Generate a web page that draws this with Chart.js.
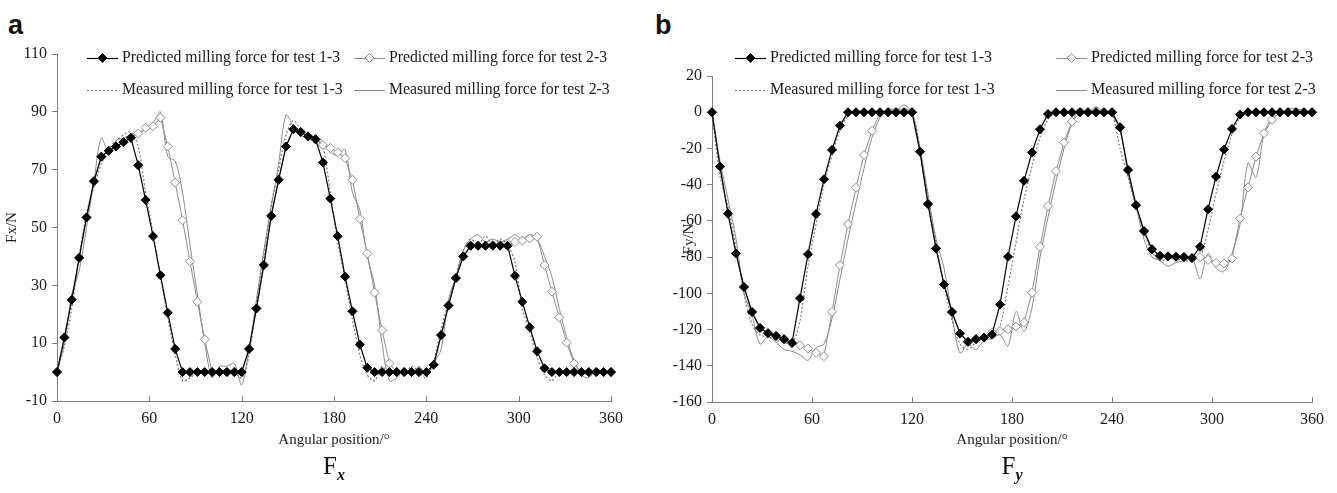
<!DOCTYPE html>
<html lang="en">
<head>
<meta charset="UTF-8">
<title>Milling force Fx / Fy</title>
<script src="https://cdn.jsdelivr.net/npm/chart.js"></script>
<style>
body {
    margin: 0;
    background: #fff;
    width: 1337px;
    height: 493px;
    position: relative;
    overflow: hidden;
    font-family: "Liberation Serif", "Times New Roman", serif;
}
canvas { position: absolute; top: 0; }
#fxChart { left: 0; }
#fyChart { left: 660px; }
.tag {
    position: absolute;
    top: 10px;
    font: bold 27px "Liberation Sans", Arial, sans-serif;
    color: #111;
}
.caption {
    position: absolute;
    top: 452px;
    font-size: 25px;
    color: #111;
    transform: translateX(-50%);
}
.caption i { font-size: 16px; font-weight: bold; }
</style>
</head>
<body>

<div class="tag" style="left:8px">a</div>
<div class="tag" style="left:655px">b</div>

<canvas id="fxChart" width="660" height="493"></canvas>
<canvas id="fyChart" width="677" height="493"></canvas>

<div class="caption" style="left:334px">F<sub><i>x</i></sub></div>
<div class="caption" style="left:1012px">F<sub><i>y</i></sub></div>

<script>
// angular position of every sample (deg)
const angleDeg = [0, 4.8, 9.6, 14.4, 19.2, 24, 28.8, 33.6, 38.4, 43.2,
    48, 52.8, 57.6, 62.4, 67.2, 72, 76.8, 81.6, 86.4, 91.2,
    96, 100.8, 105.6, 110.4, 115.2, 120, 124.8, 129.6, 134.4, 139.2,
    144, 148.8, 153.6, 158.4, 163.2, 168, 172.8, 177.6, 182.4, 187.2,
    192, 196.8, 201.6, 206.4, 211.2, 216, 220.8, 225.6, 230.4, 235.2,
    240, 244.8, 249.6, 254.4, 259.2, 264, 268.8, 273.6, 278.4, 283.2,
    288, 292.8, 297.6, 302.4, 307.2, 312, 316.8, 321.6, 326.4, 331.2,
    336, 340.8, 345.6, 350.4, 355.2, 360];

const xTicks = [0, 60, 120, 180, 240, 300, 360];
const fxTicks = [-10, 10, 30, 50, 70, 90, 110];
const fyTicks = [-160, -140, -120, -100, -80, -60, -40, -20, 0, 20];

// Fx (N)
const fxPred13 = [0, 12, 25, 39.5, 53.5, 66, 74.5, 76.5, 78, 79.5,
    81, 71.5, 59.5, 47, 33.5, 20.5, 8, 0, 0, 0,
    0, 0, 0, 0, 0, 0, 8, 22, 37, 54,
    66.5, 78, 84, 83, 81.5, 80.5, 72.5, 60, 47, 33,
    21, 9.5, 1.5, 0, 0, 0, 0, 0, 0, 0,
    0, 2.5, 12.8, 23, 32.5, 40, 43.7, 43.7, 43.7, 43.7,
    43.7, 43.7, 33.3, 24.3, 15.5, 7.2, 1.3, 0, 0, 0,
    0, 0, 0, 0, 0, 0];
const fxPred23 = [0, 12, 25, 39.5, 53.5, 66, 74.5, 76.5, 78, 79.5,
    81, 82.5, 84.5, 85, 88, 78, 65.5, 52.5, 38.3, 24.3,
    11.3, 0, 0, 0, 0, 0, 8, 22, 37, 54,
    66.5, 78, 84, 83, 81.5, 80.5, 78.5, 77.5, 76, 74,
    66.5, 53, 41, 27.5, 14.5, 3, 0, 0, 0, 0,
    0, 2.5, 12.8, 23, 32.5, 40, 43.7, 43.7, 43.7, 44,
    44, 44.5, 45, 45.5, 46.2, 46.8, 37, 27.8, 18.9, 10.2,
    3, 0, 0, 0, 0, 0];
const fxMeas13 = [0, 9, 22, 40, 55, 64, 72, 77, 80, 82,
    83, 78, 62, 48, 33, 19, 6, -3, -2, 0,
    1, -1, 0, 1, 0, -2, 6, 24, 40, 58,
    70, 82, 87, 84, 82, 81, 78, 62, 45, 32,
    18, 6, -1, -3, 2, -1, 1, -1, 2, 0,
    -2, 4, 15, 24, 33, 42, 46, 44, 47, 44,
    46, 44, 38, 22, 14, 5, -1, -3, 0, -1,
    1, 0, -1, 1, 0, 0];
const fxMeas23 = [0, 10, 27, 35, 50, 66, 81, 76, 80, 81,
    82, 82, 84, 86, 90, 74.5, 73, 62, 44, 27,
    10, -2, 2, 2, 3, -4.5, 8, 25, 42, 57,
    72, 89, 85, 82, 81, 81, 80, 76, 75, 77,
    62, 56, 40, 30, 10, -3, -2, 1, -1, 2,
    -1, 3, 8, 25, 33, 42, 46, 47.5, 45, 46,
    45, 46, 47.5, 46, 47.5, 46, 40, 33, 22, 12,
    4, -1, -2, 1, 0, 0];

// Fy (N)
const fyPred13 = [0, -30, -56, -78, -96.5, -110.3, -119.1, -122, -123.5, -125.3,
    -127.4, -102.7, -78.4, -56.2, -37, -20.8, -7.4, 0, 0, 0,
    0, 0, 0, 0, 0, 0, -21.8, -50.7, -75.2, -95.1,
    -110.3, -122.2, -126.8, -125.3, -124.4, -122.8, -106.2, -79.8, -57.5, -37.9,
    -22.2, -9.4, -1, 0, 0, 0, 0, 0, 0, 0,
    0, -8.3, -31.9, -51.3, -65.6, -75.7, -79.3, -79.6, -79.8, -80,
    -80.5, -74.3, -53.6, -35.6, -20.6, -9.2, -1.3, 0, 0, 0,
    0, 0, 0, 0, 0, 0];
const fyPred23 = [0, -30, -56, -78, -96.5, -110.3, -119.1, -122, -123.5, -125.3,
    -127.4, -128.7, -130.5, -132.9, -134.7, -110.2, -84.4, -61.8, -41.7, -23.6,
    -10.2, -0.5, 0, 0, 0, 0, -21.8, -50.7, -75.2, -95.1,
    -110.3, -122.2, -126.8, -125.3, -124.4, -121.5, -120.8, -119.8, -118.3, -116,
    -99.7, -74.3, -51.8, -32.5, -16.8, -5.2, 0, 0, 0, 0,
    0, -8.3, -31.9, -51.3, -65.6, -75.7, -79.3, -79.6, -79.8, -80,
    -80.5, -80, -81.5, -83.2, -83.5, -80.8, -58.6, -41.5, -24.5, -11.6,
    -4.2, 0, 0, 0, 0, 0];
const fyMeas13 = [0, -35, -52, -75, -100, -117, -123, -124, -126, -127,
    -128, -115, -85, -62, -40, -24, -10, -2, 0, 1,
    0, 1, 0, 1, 2, 0, -20, -48, -72, -95,
    -115, -128, -131, -127, -125, -124, -118, -96, -72, -48,
    -30, -14, -4, 0, 1, 0, 2, 0, 1, 0,
    -1, -20, -36, -52, -66, -77, -82, -81, -81, -82,
    -82, -80, -65, -45, -27, -12, -3, 0, 1, 0,
    1, 0, 1, 0, 0, 0];
const fyMeas23 = [0, -27, -48, -70, -100, -112, -128, -124, -127, -131,
    -132, -134, -137, -130, -128, -114, -92, -70, -50, -31,
    -14, -3, 2, 1, 4, 0, -20, -45, -70, -86,
    -112, -133, -128, -131, -126, -125, -123, -129, -110, -121,
    -108, -80, -58, -38, -20, -6, 2, 0, 3, 0,
    -2, -10, -34, -52, -70, -80, -82, -85, -83, -82,
    -80, -92, -78, -86, -88, -78, -62, -28, -36, -12,
    -3, -1, 2, 2, 1, 0];

Chart.defaults.font.family = '"Liberation Serif", "Times New Roman", serif';
Chart.defaults.color = '#1a1a1a';

function pts(values) {
    return angleDeg.map((a, i) => ({ x: a, y: values[i] }));
}

// two-row legend drawn above the curves
const rowLegend = {
    id: 'rowLegend',
    afterDraw(chart, args, opts) {
        const ctx = chart.ctx;
        ctx.save();
        ctx.font = '17px "Liberation Serif", serif';
        const k = opts.textWidth / ctx.measureText(chart.data.datasets[0].label).width;
        opts.items.forEach(it => {
            const ds = chart.data.datasets[it.index];
            ctx.strokeStyle = ds.borderColor;
            ctx.lineWidth = ds.borderWidth;
            ctx.setLineDash(ds.borderDash || []);
            ctx.beginPath();
            ctx.moveTo(it.x, it.y + 0.5);
            ctx.lineTo(it.x + 31, it.y + 0.5);
            ctx.stroke();
            ctx.setLineDash([]);
            if (ds.pointRadius > 0) {
                const r = ds.pointRadius, cx = it.x + 15.5;
                ctx.beginPath();
                ctx.moveTo(cx - r, it.y);
                ctx.lineTo(cx, it.y - r);
                ctx.lineTo(cx + r, it.y);
                ctx.lineTo(cx, it.y + r);
                ctx.closePath();
                ctx.fillStyle = ds.pointBackgroundColor;
                ctx.fill();
                ctx.strokeStyle = ds.pointBorderColor;
                ctx.lineWidth = 1;
                ctx.stroke();
            }
            ctx.save();
            ctx.translate(it.x + 35, it.y);
            ctx.scale(k, 1);
            ctx.fillStyle = '#1a1a1a';
            ctx.textBaseline = 'middle';
            ctx.fillText(ds.label, 0, 0);
            ctx.restore();
        });
        ctx.restore();
    }
};

// x-axis tick marks point into the plot
const innerTicks = {
    id: 'innerTicks',
    afterDraw(chart) {
        const { ctx, chartArea } = chart;
        const x = chart.scales.x;
        ctx.save();
        ctx.strokeStyle = '#808080';
        ctx.lineWidth = 1;
        x.ticks.forEach(t => {
            const px = Math.round(x.getPixelForValue(t.value)) + 0.5;
            ctx.beginPath();
            ctx.moveTo(px, chartArea.bottom);
            ctx.lineTo(px, chartArea.bottom - 5);
            ctx.stroke();
        });
        ctx.restore();
    }
};

function makeChart(id, cfg) {
    const datasets = [
        { label: 'Predicted milling force for test 1-3', data: pts(cfg.pred13), showLine: true,
          borderColor: '#000', borderWidth: 1.2, pointStyle: 'rectRot', pointRadius: 4.5,
          pointBackgroundColor: '#000', pointBorderColor: '#000', pointBorderWidth: 1, order: 0, clip: false },
        { label: 'Predicted milling force for test 2-3', data: pts(cfg.pred23), showLine: true,
          borderColor: '#8c8c8c', borderWidth: 1, pointStyle: 'rectRot', pointRadius: 4.5,
          pointBackgroundColor: '#fff', pointBorderColor: '#8c8c8c', pointBorderWidth: 1, order: 1, clip: false },
        { label: 'Measured milling force for test 1-3', data: pts(cfg.meas13), showLine: true,
          borderColor: '#7a7a7a', borderWidth: 1.2, borderDash: [2, 2], pointRadius: 0,
          tension: 0.3, order: 2, clip: false },
        { label: 'Measured milling force for test 2-3', data: pts(cfg.meas23), showLine: true,
          borderColor: '#8a8a8a', borderWidth: 1, pointRadius: 0,
          tension: 0.3, order: 3, clip: false }
    ];

    return new Chart(document.getElementById(id), {
        type: 'scatter',
        data: { datasets },
        options: {
            responsive: false,
            animation: false,
            events: [],
            layout: { padding: { top: cfg.top, right: cfg.right, left: 0, bottom: 0 } },
            plugins: {
                legend: { display: false },
                tooltip: { enabled: false },
                rowLegend: { items: cfg.legend, textWidth: cfg.textWidth }
            },
            scales: {
                x: {
                    type: 'linear',
                    min: xTicks[0],
                    max: xTicks[xTicks.length - 1],
                    afterBuildTicks: s => { s.ticks = xTicks.map(v => ({ value: v })); },
                    ticks: { font: { size: 16 }, padding: 8, maxRotation: 0 },
                    grid: { display: false, drawTicks: false },
                    border: { display: true, color: '#808080', width: 1 },
                    title: { display: true, text: 'Angular position/°', font: { size: 15 },
                             padding: { top: 0, bottom: 44 } },
                    afterFit: s => { s.height = cfg.bottom; }
                },
                y: {
                    min: cfg.yTicks[0],
                    max: cfg.yTicks[cfg.yTicks.length - 1],
                    afterBuildTicks: s => { s.ticks = cfg.yTicks.map(v => ({ value: v })); },
                    ticks: { font: { size: 16 }, padding: 5 },
                    grid: { display: true, drawOnChartArea: false, drawTicks: true, tickLength: 5, color: '#808080' },
                    border: { display: true, color: '#808080', width: 1 },
                    title: { display: true, text: cfg.yTitle, font: { size: 15 },
                             padding: { top: cfg.titlePad, bottom: 0 } },
                    afterFit: s => { s.width = cfg.left; }
                }
            }
        },
        plugins: [rowLegend, innerTicks]
    });
}

makeChart('fxChart', {
    pred13: fxPred13, pred23: fxPred23, meas13: fxMeas13, meas23: fxMeas23,
    yTicks: fxTicks, yTitle: 'Fx/N',
    left: 57, top: 54, right: 49, bottom: 92, titlePad: 3,
    textWidth: 218,
    legend: [
        { index: 0, x: 87, y: 58 },
        { index: 1, x: 354, y: 58 },
        { index: 2, x: 87, y: 90 },
        { index: 3, x: 354, y: 90 }
    ]
});

makeChart('fyChart', {
    pred13: fyPred13, pred23: fyPred23, meas13: fyMeas13, meas23: fyMeas23,
    yTicks: fyTicks, yTitle: 'Fy/N',
    left: 52, top: 76, right: 25, bottom: 91, titlePad: 20,
    textWidth: 222,
    legend: [
        { index: 0, x: 75, y: 58 },
        { index: 1, x: 396, y: 58 },
        { index: 2, x: 75, y: 90 },
        { index: 3, x: 396, y: 90 }
    ]
});
</script>
</body>
</html>
